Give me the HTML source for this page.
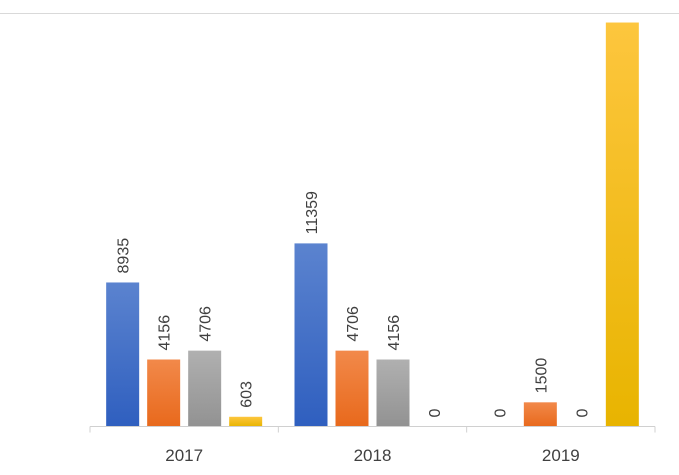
<!DOCTYPE html>
<html><head><meta charset="utf-8"><style>
html,body{margin:0;padding:0;background:#fff;}
svg{display:block;font-family:"Liberation Sans",sans-serif;}
</style></head><body>
<svg id="chart" width="679" height="475" viewBox="0 0 679 475">
<defs>
<linearGradient id="gBlue" x1="0" y1="0" x2="0" y2="1"><stop offset="0" stop-color="#5b83cf"/><stop offset="1" stop-color="#2f5fbf"/></linearGradient>
<linearGradient id="gOrange" x1="0" y1="0" x2="0" y2="1"><stop offset="0" stop-color="#f2894a"/><stop offset="1" stop-color="#e8691c"/></linearGradient>
<linearGradient id="gGray" x1="0" y1="0" x2="0" y2="1"><stop offset="0" stop-color="#b0b0b0"/><stop offset="1" stop-color="#929292"/></linearGradient>
<linearGradient id="gYellow" x1="0" y1="0" x2="0" y2="1"><stop offset="0" stop-color="#fdc63e"/><stop offset="1" stop-color="#e8b400"/></linearGradient>
<filter id="sh" x="-30%" y="-5%" width="160%" height="110%"><feDropShadow dx="0" dy="0" stdDeviation="2.5" flood-color="#000" flood-opacity="0.35"/></filter>
</defs>
<line x1="0" y1="13.5" x2="679" y2="13.5" stroke="#d9d9d9" stroke-width="1"/>
<g id="bars"></g>
<g id="labels"></g>
<g id="axis"></g>
</svg>
<script>
const categories = ["2017","2018","2019"];
const seriesBlue = [8935, 11359, 0];
const seriesOrange = [4156, 4706, 1500];
const seriesGray = [4706, 4156, 0];
const seriesYellow = [603, 0, 25060];
const showLabelYellow = [true, true, false];
const yMax = 25620;

const NS="http://www.w3.org/2000/svg";
const x0=90, x1=655, yBase=426.5, yTop=13.5;
const catW=(x1-x0)/categories.length;
const barW=33, gap=8, pad=(catW-(4*barW+3*gap))/2;
function yScale(v){return yBase-(v/yMax)*(yBase-yTop);}
const series=[
 {name:"blue",vals:seriesBlue,fill:"url(#gBlue)"},
 {name:"orange",vals:seriesOrange,fill:"url(#gOrange)"},
 {name:"gray",vals:seriesGray,fill:"url(#gGray)"},
 {name:"yellow",vals:seriesYellow,fill:"url(#gYellow)"}
];
const gB=document.getElementById('bars'), gL=document.getElementById('labels'), gA=document.getElementById('axis');
categories.forEach((c,ci)=>{
 series.forEach((s,si)=>{
  const v=s.vals[ci];
  const bx=x0+ci*catW+pad+si*(barW+gap);
  const top=Math.max(yScale(v),22);
  if(v>0){
   const r=document.createElementNS(NS,'rect');
   
   
   r.setAttribute('x',bx);r.setAttribute('y',top);
   r.setAttribute('width',barW);r.setAttribute('height',yBase-top);
   r.setAttribute('fill',s.fill);
   if(top<=22) r.setAttribute('filter','url(#sh)');
   gB.appendChild(r);
  }
  if(s.name==="yellow" && !showLabelYellow[ci]) return;
  const t=document.createElementNS(NS,'text');
  
  
  const cx=bx+barW/2+6, ty=top-9;
  t.setAttribute('transform','translate('+cx+','+ty+') rotate(-90)');
  t.setAttribute('font-size','16');t.setAttribute('fill','#404040');
  t.textContent=String(v);
  gL.appendChild(t);
 });
 const lt=document.createElementNS(NS,'text');
 
 
 lt.setAttribute('x',x0+ci*catW+catW/2);lt.setAttribute('y',461);
 lt.setAttribute('text-anchor','middle');lt.setAttribute('font-size','17');lt.setAttribute('fill','#404040');
 lt.textContent=c;
 gA.appendChild(lt);
});
const ax=document.createElementNS(NS,'line');


ax.setAttribute('x1',x0);ax.setAttribute('x2',x1);ax.setAttribute('y1',yBase);ax.setAttribute('y2',yBase);
ax.setAttribute('stroke','#d0d0d0');
gA.appendChild(ax);
for(let i=0;i<=categories.length;i++){
 const tk=document.createElementNS(NS,'line');
 
 
 const tx=x0+i*catW;
 tk.setAttribute('x1',tx);tk.setAttribute('x2',tx);tk.setAttribute('y1',yBase);tk.setAttribute('y2',yBase+6);
 tk.setAttribute('stroke','#d0d0d0');
 gA.appendChild(tk);
}
</script>
</body></html>
